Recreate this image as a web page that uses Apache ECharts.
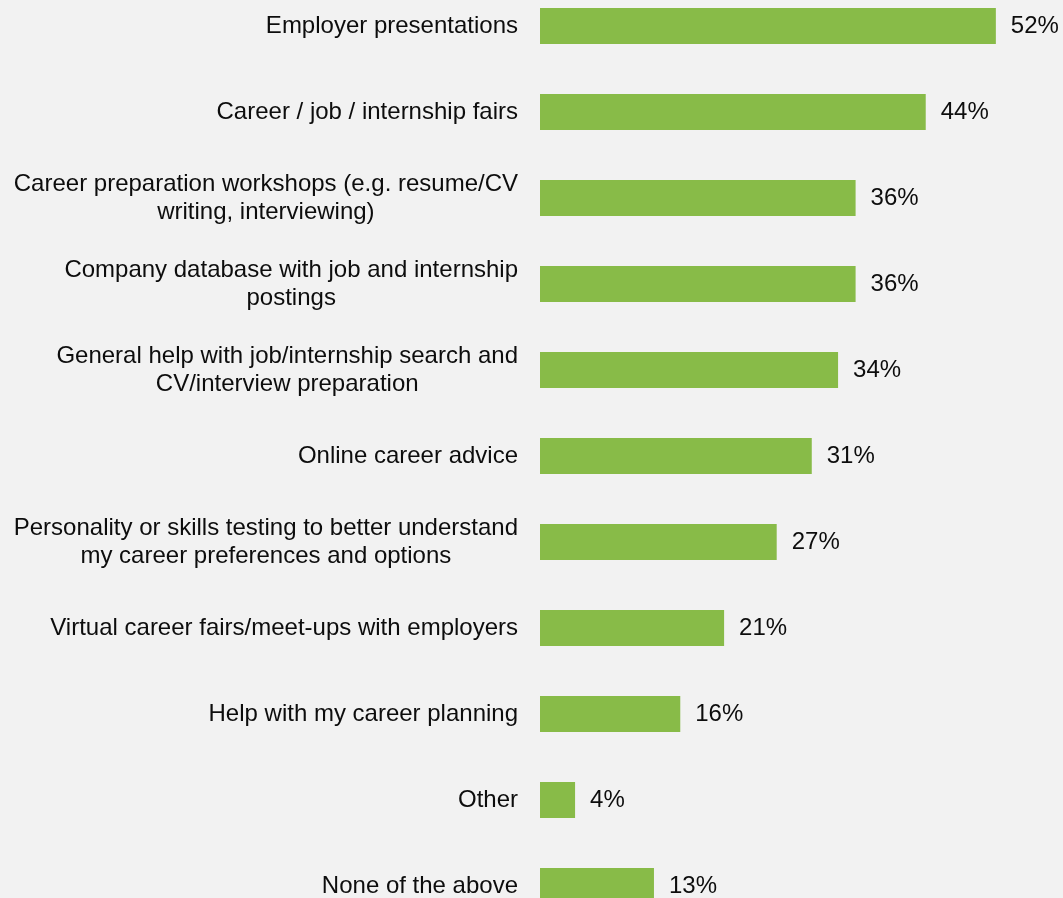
<!DOCTYPE html>
<html>
<head>
<meta charset="utf-8">
<script src="https://cdn.jsdelivr.net/npm/echarts@6/dist/echarts.min.js"></script>
<style>
  html, body { margin: 0; padding: 0; background: #f2f2f2; }
  #chart { width: 1063px; height: 898px; }
</style>
</head>
<body>
<div id="chart"></div>
<script>
const categories = [
  'Employer presentations',
  'Career / job / internship fairs',
  'Career preparation workshops (e.g. resume/CV\nwriting, interviewing)',
  'Company database with job and internship\npostings',
  'General help with job/internship search and\nCV/interview preparation',
  'Online career advice',
  'Personality or skills testing to better understand\nmy career preferences and options',
  'Virtual career fairs/meet-ups with employers',
  'Help with my career planning',
  'Other',
  'None of the above'
];
const values = [52, 44, 36, 36, 34, 31, 27, 21, 16, 4, 13];

const chart = echarts.init(document.getElementById('chart'));
const font = 'Liberation Sans, Arial, sans-serif';

chart.setOption({
  backgroundColor: '#f2f2f2',
  animation: false,
  // last bar runs past the bottom edge, like the original
  grid: { left: 540, top: -17, width: 526, height: 946, outerBoundsMode: 'none', containLabel: false },
  xAxis: {
    type: 'value',
    min: 0,
    max: 60,
    show: false
  },
  yAxis: {
    type: 'category',
    inverse: true,
    data: categories,
    axisLine: { show: false },
    axisTick: { show: false },
    splitLine: { show: false },
    axisLabel: {
      margin: 22,
      fontFamily: font,
      fontSize: 24,
      lineHeight: 28,
      color: '#0d0d0d',
      formatter: function (v) {
        // each line centred inside the right-aligned block
        return v.split('\n').map(function (s) { return '{c|' + s + '}'; }).join('\n');
      },
      rich: {
        c: { align: 'center', fontFamily: font, fontSize: 24, lineHeight: 28, color: '#0d0d0d' }
      }
    }
  },
  series: [{
    type: 'bar',
    data: values,
    barWidth: 36,
    itemStyle: { color: '#88bb48' },
    label: {
      show: true,
      position: 'right',
      distance: 15,
      fontFamily: font,
      fontSize: 24,
      color: '#0d0d0d',
      formatter: '{c}%'
    }
  }]
});
</script>
</body>
</html>
